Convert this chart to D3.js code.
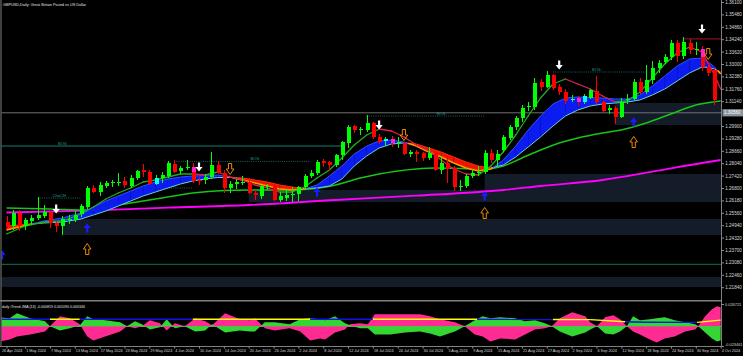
<!DOCTYPE html>
<html><head><meta charset="utf-8">
<script src="https://cdn.jsdelivr.net/npm/d3@7"></script>
<style>
html,body{margin:0;padding:0;background:#000;overflow:hidden}
svg{display:block}
text{font-family:"Liberation Sans",Arial,sans-serif}
</style></head><body>
<svg id="c" width="743" height="356"></svg>
<script>
// ---------------- DATA ----------------
const chartTitle = "GBPUSD,Daily:  Great Britain Pound vs US Dollar";
const subTitle = "daily iTrend JMA (13) -0.000819 0.001090 0.000346";

// Daily OHLC, bar 0 = 26 Apr 2024 ... bar 115 = 4 Oct 2024
const opens = [1.2510,1.2490,1.2555,1.2490,1.2515,1.2530,1.2540,1.2558,1.2505,1.2490,
 1.2522,1.2522,1.2550,1.2585,1.2680,1.2660,1.2690,1.2705,1.2705,1.2715,
 1.2690,1.2728,1.2768,1.2760,1.2702,1.2728,1.2738,1.2800,1.2765,1.2780,
 1.2785,1.2722,1.2718,1.2735,1.2795,1.2755,1.2680,1.2702,1.2708,1.2712,
 1.2655,1.2640,1.2688,1.2692,1.2622,1.2632,1.2645,1.2650,1.2685,1.2740,
 1.2755,1.2815,1.2810,1.2795,1.2845,1.2905,1.2988,1.2970,1.2968,1.3003,
 1.2935,1.2915,1.2925,1.2905,1.2905,1.2850,1.2858,1.2855,1.2830,1.2855,
 1.2770,1.2805,1.2780,1.2685,1.2690,1.2740,1.2755,1.2760,1.2855,1.2820,
 1.2868,1.2930,1.2985,1.3030,1.3085,1.3085,1.3210,1.3185,1.3245,1.3185,
 1.3160,1.3120,1.3130,1.3112,1.3130,1.3165,1.3110,1.3070,1.3080,1.3035,
 1.3118,1.3125,1.3210,1.3160,1.3220,1.3280,1.3310,1.3335,1.3405,1.3340,
 1.3405,1.3370,1.3375,1.3285,1.3270,1.3120];
const highs = [1.2540,1.2570,1.2570,1.2530,1.2545,1.2634,1.2595,1.2565,1.2515,1.2540,
 1.2545,1.2565,1.2600,1.2690,1.2695,1.2710,1.2715,1.2720,1.2755,1.2735,
 1.2745,1.2770,1.2800,1.2770,1.2745,1.2760,1.2815,1.2818,1.2790,1.2818,
 1.2805,1.2735,1.2750,1.2860,1.2815,1.2770,1.2715,1.2725,1.2740,1.2730,
 1.2670,1.2695,1.2700,1.2700,1.2660,1.2675,1.2685,1.2690,1.2750,1.2770,
 1.2820,1.2825,1.2815,1.2850,1.2915,1.2995,1.2995,1.2985,1.3044,1.3010,
 1.2950,1.2935,1.2940,1.2935,1.2910,1.2870,1.2870,1.2860,1.2885,1.2865,
 1.2840,1.2840,1.2790,1.2720,1.2750,1.2775,1.2790,1.2870,1.2875,1.2870,
 1.2945,1.2995,1.3040,1.3095,1.3110,1.3230,1.3225,1.3266,1.3250,1.3200,
 1.3175,1.3145,1.3140,1.3150,1.3175,1.3239,1.3120,1.3095,1.3090,1.3130,
 1.3150,1.3225,1.3230,1.3297,1.3315,1.3320,1.3350,1.3420,1.3420,1.3434,
 1.3425,1.3410,1.3390,1.3310,1.3280,1.3130];
const lows = [1.2475,1.2470,1.2465,1.2470,1.2495,1.2520,1.2530,1.2480,1.2460,1.2446,
 1.2500,1.2510,1.2535,1.2575,1.2655,1.2640,1.2680,1.2685,1.2690,1.2680,
 1.2680,1.2720,1.2735,1.2695,1.2695,1.2705,1.2730,1.2755,1.2750,1.2770,
 1.2705,1.2695,1.2700,1.2725,1.2750,1.2655,1.2655,1.2675,1.2695,1.2650,
 1.2620,1.2625,1.2670,1.2615,1.2610,1.2615,1.2610,1.2615,1.2675,1.2730,
 1.2745,1.2785,1.2765,1.2785,1.2820,1.2880,1.2955,1.2945,1.2960,1.2925,
 1.2900,1.2890,1.2885,1.2880,1.2845,1.2835,1.2810,1.2815,1.2820,1.2765,
 1.2750,1.2705,1.2665,1.2665,1.2680,1.2730,1.2740,1.2750,1.2805,1.2790,
 1.2860,1.2920,1.2970,1.3010,1.3065,1.3070,1.3165,1.3180,1.3170,1.3145,
 1.3100,1.3110,1.3090,1.3100,1.3125,1.3100,1.3060,1.3050,1.3000,1.3030,
 1.3100,1.3120,1.3150,1.3150,1.3200,1.3255,1.3300,1.3320,1.3310,1.3325,
 1.3350,1.3345,1.3265,1.3240,1.3095,1.3070];
const closes = [1.2490,1.2555,1.2490,1.2520,1.2530,1.2545,1.2558,1.2505,1.2490,1.2525,
 1.2527,1.2545,1.2590,1.2680,1.2660,1.2697,1.2705,1.2708,1.2712,1.2695,
 1.2732,1.2765,1.2760,1.2702,1.2732,1.2745,1.2805,1.2760,1.2780,1.2785,
 1.2715,1.2718,1.2735,1.2795,1.2755,1.2680,1.2702,1.2708,1.2712,1.2655,
 1.2645,1.2688,1.2690,1.2620,1.2640,1.2645,1.2650,1.2685,1.2740,1.2755,
 1.2810,1.2805,1.2795,1.2845,1.2910,1.2985,1.2972,1.2976,1.3003,1.2935,
 1.2912,1.2925,1.2905,1.2910,1.2850,1.2860,1.2850,1.2830,1.2855,1.2770,
 1.2805,1.2775,1.2685,1.2690,1.2740,1.2755,1.2762,1.2855,1.2820,1.2850,
 1.2935,1.2985,1.3030,1.3080,1.3090,1.3205,1.3185,1.3245,1.3180,1.3160,
 1.3115,1.3125,1.3110,1.3140,1.3170,1.3110,1.3065,1.3082,1.3035,1.3110,
 1.3125,1.3210,1.3160,1.3220,1.3280,1.3305,1.3335,1.3405,1.3340,1.3410,
 1.3370,1.3375,1.3285,1.3255,1.3120,1.3115];

// Bars painted by the band-touch indicator (body part from top to bottom price)
const paintIdx    = [24, 30, 61, 62, 91, 92, 93, 112];
const paintTop    = [1.2732,1.2785,1.2925,1.2925,1.3125,1.3130,1.3140,1.3375];
const paintBottom = [1.2702,1.2762,1.2915,1.2905,1.3120,1.3110,1.3112,1.3335];
const paintKind   = ['up','down','up','down','up','down','up','down'];

// Fast moving average (coloured by slope)
const fastIdx = [0,3,6,9,12,14,16,18,20,22,24,26,28,30,32,34,36,38,40,42,44,46,48,50,52,54,56,58,60,62,64,66,68,70,72,74,76,78,80,82,84,86,88,90,92,94,96,98,100,102,104,106,108,110,112,114,115];
const fastMA = [1.2450,1.2490,1.2510,1.2515,1.2550,1.2585,1.2625,1.2655,1.2680,1.2710,1.2720,1.2735,1.2750,1.2750,1.2745,1.2760,1.2735,1.2720,1.2695,1.2680,1.2660,1.2660,1.2685,1.2730,1.2770,1.2830,1.2895,1.2945,1.2975,1.2965,1.2935,1.2895,1.2865,1.2820,1.2775,1.2750,1.2745,1.2790,1.2860,1.2945,1.3040,1.3130,1.3200,1.3225,1.3200,1.3175,1.3140,1.3110,1.3115,1.3160,1.3230,1.3300,1.3355,1.3385,1.3360,1.3245,1.3175];

// Ribbon: fast and slow edges
const bandIdx = [0,2,4,6,9,12,14,16,18,20,22,24,26,28,30,32,34,36,38,40,42,44,46,48,50,52,54,56,58,60,62,64,66,68,70,72,74,76,78,80,82,84,86,88,90,92,94,96,98,100,102,104,106,108,110,112,113,114,115];
const bandFast = [1.2470,1.2485,1.2500,1.2515,1.2530,1.2555,1.2585,1.2615,1.2640,1.2665,1.2690,1.2710,1.2725,1.2735,1.2740,1.27425,1.2745,1.2735,1.2720,1.2705,1.2690,1.2675,1.2670,1.2675,1.2695,1.2740,1.2790,1.2850,1.2890,1.2915,1.2920,1.2910,1.2890,1.2860,1.2835,1.2805,1.2780,1.2765,1.2775,1.2820,1.2890,1.2970,1.3040,1.3100,1.3130,1.3135,1.31325,1.3130,1.3125,1.3125,1.3145,1.3190,1.3240,1.3290,1.3325,1.3330,1.3310,1.3285,1.3250];
const bandSlow = [1.2490,1.2495,1.2500,1.2505,1.2510,1.2525,1.2545,1.2565,1.2590,1.2615,1.2640,1.2660,1.2680,1.2700,1.2715,1.2725,1.27325,1.27325,1.2730,1.2720,1.2710,1.2695,1.2685,1.26775,1.2680,1.2690,1.2725,1.2790,1.2840,1.2880,1.2900,1.2905,1.2900,1.2880,1.2860,1.2835,1.2810,1.2790,1.2780,1.2795,1.2835,1.2885,1.2935,1.2990,1.3040,1.3070,1.3090,1.3100,1.3105,1.3110,1.3120,1.3145,1.3175,1.3215,1.3255,1.3285,1.32825,1.3275,1.3260];

// Slow green MA and magenta MA
const slowIdx = [0,7,13,17,21,25,30,35,39,45,49,53,57,60,63,66,69,73,77,80,83,86,89,92,96,99,103,107,111,115];
const slowMA = [1.2580,1.2575,1.2570,1.2590,1.2610,1.2630,1.2655,1.26675,1.2670,1.2670,1.2675,1.2695,1.2730,1.2750,1.2765,1.2775,1.2780,1.27775,1.2775,1.2790,1.2830,1.2870,1.2905,1.2930,1.2955,1.2970,1.3005,1.3050,1.3095,1.3115];
const longIdx = [0,13,26,39,53,66,80,86,96,104,112,115];
const longMA = [1.25575,1.25665,1.25815,1.2595,1.2620,1.26415,1.2670,1.2690,1.2720,1.27615,1.2805,1.2820];

// Signal arrows
const sellIdx = [8,31,60,89,112];
const sellPrice = [1.2575,1.2785,1.2995,1.3295,1.3475];
const buyIdx = [-0.7,13,50,77,101];
const buyPrice = [1.2345,1.2480,1.2660,1.2640,1.3010];
const exitDownIdx = [36,64,113];
const exitDownPrice = [1.2775,1.2945,1.3350];
const exitUpIdx = [13,77,101];
const exitUpPrice = [1.2375,1.2555,1.2910];

// Supply / demand zones
const zoneStart = [9,-1,39,77,98];
const zoneEnd = [117,117,117,117,117];
const zoneTop = [1.2525,1.2235,1.2670,1.2750,1.3105];
const zoneBottom = [1.2445,1.2185,1.2610,1.2670,1.2995];

// Structure breaks
const structStart = [-1,5,24,27,58,88];
const structEnd = [54,12,30,49,77,103];
const structPrice = [1.2890,1.2630,1.2680,1.2813,1.3040,1.3260];
const structText = ['BOS','ChoCH','BOS','BOS','BOS','BOS'];
const structLabelIdx = [9,8.5,26.5,40,70,95];
const structConfirmed = [true,false,false,false,false,false];

// Other horizontal levels
const levelTeal = 1.22985;
const levelGrey = 1.30560;
const highLevel = 1.3426, highLevelFrom = 109;

// Axis ticks
const priceTicks = [1.36100,1.35480,1.34860,1.34240,1.33620,1.33000,1.32380,1.31760,1.31140,1.29900,1.29280,1.28660,1.28040,1.27420,1.26800,1.26180,1.25560,1.24940,1.24320,1.23700,1.23080,1.22460,1.21840];
const dateTickIdx = [0,3,7,11,15,19,23,27,31,35,39,43,47,51,55,59,63,67,71,75,79,83,87,91,95,99,103,107,111,115];
const dateTickText = ['26 Apr 2024','1 May 2024','7 May 2024','13 May 2024','17 May 2024','23 May 2024','29 May 2024','4 Jun 2024','10 Jun 2024','14 Jun 2024','20 Jun 2024','26 Jun 2024','2 Jul 2024','8 Jul 2024','12 Jul 2024','18 Jul 2024','24 Jul 2024','30 Jul 2024','5 Aug 2024','9 Aug 2024','15 Aug 2024','21 Aug 2024','27 Aug 2024','2 Sep 2024','6 Sep 2024','12 Sep 2024','18 Sep 2024','24 Sep 2024','30 Sep 2024','4 Oct 2024'];

// iTrend sub-window
const trendIdx = [-1,0.5,1.7,3.8,6.2,7,8.6,10.2,11.8,13,14,15.9,18.3,19.4,20.7,21.8,23.1,24.7,25.8,27.1,28.7,30.4,32,33.1,35.2,37.6,39.2,40,41.6,43.2,45.6,47.3,48.9,50.5,51.3,52.9,54.5,55.3,56.9,58.2,59.3,61.8,64.2,66.6,68.2,69.8,72.2,73.8,75.4,76.7,77.9,79.5,81.9,83.5,85.1,86.7,87.8,89.1,91.1,93.2,94,95.1,96.4,97.7,98.8,99.9,100.9,102,103.6,104.7,106,107.6,109.3,110.9,111.4,112.5,113.6,114.4,115];
const bullVals = [0.0108,0.0096,0.0156,0.0096,0.006,0,-0.0048,-0.0024,0.0012,0.012,
 0.0084,0.0072,0.0048,0,0.006,0.0024,-0.0036,-0.0012,0.0084,-0.0024,
 0,-0.006,-0.0048,0.0024,-0.0072,-0.0048,-0.006,-0.006,0.0048,0.0048,
 0.0024,0.0084,0.0096,0.0084,0.0072,0.012,0.0036,0.0012,-0.0024,-0.0024,
 -0.0096,-0.0096,-0.0072,-0.006,-0.0084,-0.012,-0.006,0,0.0072,0.012,
 0.0096,0.0108,0.0096,0.006,0.0072,0.0036,0,-0.006,-0.012,-0.0072,
 -0.0036,0,-0.0084,-0.0096,-0.006,0,0.012,0.0072,0.0084,0.0096,
 0.0108,0.0072,0.0048,0.0024,0,-0.0072,-0.0144,-0.018,-0.0168];
const bearVals = [-0.018,-0.0156,-0.012,-0.0096,-0.006,0,0.012,0.0096,0.0024,-0.012,
 -0.0168,-0.012,-0.006,0,-0.0024,0,0.0072,0.0036,-0.0048,0.0036,
 0,0.0096,0.006,0.0012,0.0156,0.0084,0.0072,0.0096,-0.0024,-0.0048,
 -0.0024,-0.006,-0.0168,-0.0144,-0.0156,-0.0072,-0.0036,0.0024,0.0036,0.0024,
 0.0144,0.0144,0.0144,0.0144,0.012,0.0084,0.0048,0,-0.0096,-0.012,
 -0.018,-0.0144,-0.0156,-0.0096,-0.0036,-0.0024,0,0.0096,0.0168,0.012,
 0.0048,0,0.0108,0.0132,0.0084,0,-0.006,-0.0096,-0.0156,-0.0192,
 -0.0144,-0.012,-0.006,-0.0036,0,0.012,0.0204,0.024,0.0228];
const sigIdx = [-1,7,11.8,30,48.9,59,75.8,88,94,99,99.6,103,111.2,115];
const sigVals = [0.0085,0.0085,0.0085,0.0085,0.0085,0.0085,0.0085,0.0082,0.0080,0.0058,0.0056,0.0050,0.0048,0.0075];
const sigState = ['up','down','up','down','up','down','up','down','down','down','up','up','down','down'];
const subTicks = [0.026721,-0.023461];
const lastLevelText = "1.30560";

// ---------------- DRAW ----------------
const W = 743, H = 356, AX = 721.5;
const svg = d3.select('#c');
svg.append('rect').attr('width',W).attr('height',H).attr('fill','#000');

const x = d3.scaleLinear().domain([0,115]).range([6.5,720.65]);
const y = d3.scaleLinear().domain([1.21840,1.36100]).range([287.2,2]);
const ySub = d3.scaleLinear().domain([-0.023461,0.026721]).range([346,304]);

const defs = svg.append('defs');
defs.append('clipPath').attr('id','cm').append('rect').attr('x',1.5).attr('y',0).attr('width',AX-1.5).attr('height',299);
defs.append('clipPath').attr('id','cs').append('rect').attr('x',1.5).attr('y',301.5).attr('width',AX-1.5).attr('height',44.5);

const main = svg.append('g').attr('clip-path','url(#cm)');

// zones
main.selectAll('rect.zone').data(zoneStart).join('rect').attr('class','zone')
  .attr('x',(d)=>x(d)).attr('width',(d,k)=>x(zoneEnd[k])-x(d))
  .attr('y',(d,k)=>y(zoneTop[k])).attr('height',(d,k)=>y(zoneBottom[k])-y(zoneTop[k]))
  .attr('fill','#141c2a');

// horizontal levels
main.append('line').attr('x1',0).attr('x2',AX).attr('y1',y(levelTeal)).attr('y2',y(levelTeal))
  .attr('stroke','#0f5c4a').attr('stroke-width',1.2);
main.append('line').attr('x1',0).attr('x2',AX).attr('y1',y(levelGrey)).attr('y2',y(levelGrey))
  .attr('stroke','#707070').attr('stroke-width',1);
main.append('line').attr('x1',x(highLevelFrom)).attr('x2',AX).attr('y1',y(highLevel)).attr('y2',y(highLevel))
  .attr('stroke','#8a1010').attr('stroke-width',1.3);

// structure lines
structStart.forEach((s,k)=>{
  main.append('line').attr('x1',x(s)).attr('x2',x(structEnd[k]))
    .attr('y1',y(structPrice[k])).attr('y2',y(structPrice[k]))
    .attr('stroke', structConfirmed[k] ? '#13806f' : '#1b7d70')
    .attr('stroke-width', structConfirmed[k] ? 1.2 : 0.8)
    .attr('stroke-dasharray', structConfirmed[k] ? null : '1,1.2');
  main.append('text').attr('x',x(structLabelIdx[k])).attr('y',y(structPrice[k])-1.2)
    .attr('text-anchor','middle').attr('font-size',4.2).attr('fill','#1d9a88').text(structText[k]);
});

// long MA (magenta), slow MA (green)
const lineGen = d3.line().x(d=>x(d[0])).y(d=>y(d[1])).curve(d3.curveMonotoneX);
main.append('path').attr('d',lineGen(longIdx.map((d,k)=>[d,longMA[k]])))
  .attr('fill','none').attr('stroke','#ff00ff').attr('stroke-width',1.8);
main.append('path').attr('d',lineGen(slowIdx.map((d,k)=>[d,slowMA[k]])))
  .attr('fill','none').attr('stroke','#17c417').attr('stroke-width',1.5);

// ribbon
const bandPts = bandIdx.map((d,k)=>({i:d,f:bandFast[k],s:bandSlow[k]}));
const areaGen = d3.area().x(d=>x(d.i)).y0(d=>y(d.s)).y1(d=>y(d.f));
const segLine = d3.line().x(d=>x(d[0])).y(d=>y(d[1]));
const bandG = main.append('g');
const edgeG = main.append('g');
for (let k=0;k<bandPts.length-1;k++){
  const a=bandPts[k], b=bandPts[k+1];
  const da=a.f-a.s, db=b.f-b.s;
  let pieces;
  if (da*db<0){
    const t = da/(da-db);
    const m = {i:a.i+t*(b.i-a.i), f:a.f+t*(b.f-a.f)}; m.s=m.f;
    pieces=[[a,m,da>0],[m,b,db>0]];
  } else pieces=[[a,b,(da+db)>=0]];
  pieces.forEach(([p,q,bull])=>{
    bandG.append('path').attr('d',areaGen([p,q])).attr('fill',bull?'#0c1cf0':'#f01400').attr('stroke','none');
    edgeG.append('path').attr('d',segLine([[p.i,p.s],[q.i,q.s]])).attr('fill','none')
      .attr('stroke',bull?'#6fcfcf':'#ff2a10').attr('stroke-width',1);
    edgeG.append('path').attr('d',segLine([[p.i,p.f],[q.i,q.f]])).attr('fill','none')
      .attr('stroke',bull?'#3050ff':'#ff9a00').attr('stroke-width',bull?1:1.6);
  });
}

// fast MA coloured by slope
const fastG = main.append('g');
for (let k=0;k<fastIdx.length-1;k++){
  const up = fastMA[k+1] >= fastMA[k];
  fastG.append('path').attr('d',segLine([[fastIdx[k],fastMA[k]],[fastIdx[k+1],fastMA[k+1]]]))
    .attr('fill','none').attr('stroke',up?'#1fae1f':'#e0224a').attr('stroke-width',1.3)
    .attr('stroke-linecap','round');
}

// candles
const bars = opens.map((o,i)=>({i,o,h:highs[i],l:lows[i],c:closes[i]}));
const cg = main.append('g').attr('shape-rendering','crispEdges');
const col = d=> d.c>=d.o ? '#00ff00' : '#ff0000';
cg.selectAll('line').data(bars).join('line')
  .attr('x1',d=>Math.round(x(d.i))+0.5).attr('x2',d=>Math.round(x(d.i))+0.5)
  .attr('y1',d=>y(d.h)).attr('y2',d=>y(d.l)).attr('stroke',col).attr('stroke-width',1);
cg.selectAll('rect.b').data(bars).join('rect').attr('class','b')
  .attr('x',d=>Math.round(x(d.i))-1.5).attr('width',4)
  .attr('y',d=>y(Math.max(d.o,d.c))).attr('height',d=>Math.max(1,Math.abs(y(d.o)-y(d.c))))
  .attr('fill',col);
cg.selectAll('rect.p').data(paintIdx).join('rect').attr('class','p')
  .attr('x',d=>Math.round(x(d))-1.5).attr('width',4)
  .attr('y',(d,k)=>y(paintTop[k])).attr('height',(d,k)=>Math.max(1,y(paintBottom[k])-y(paintTop[k])))
  .attr('fill',(d,k)=>paintKind[k]==='up'?'#00ffff':'#ff22cc');

// arrows
const downArrow = 'M-1.1,-4.5L1.1,-4.5L1.1,0L3.6,0L0,4.5L-3.6,0L-1.1,0Z';
const upArrow = 'M-1.1,4.5L1.1,4.5L1.1,0L3.6,0L0,-4.5L-3.6,0L-1.1,0Z';
const hollowDown = 'M-1.6,-5.5L1.6,-5.5L1.6,0L3.8,0L0,5.5L-3.8,0L-1.6,0Z';
const hollowUp = 'M-1.6,5.5L1.6,5.5L1.6,0L3.8,0L0,-5.5L-3.8,0L-1.6,0Z';
const ag = main.append('g');
sellIdx.forEach((d,k)=>ag.append('path').attr('d',downArrow)
  .attr('transform',`translate(${x(d)},${y(sellPrice[k])})`).attr('fill','#ffffff'));
buyIdx.forEach((d,k)=>ag.append('path').attr('d',upArrow)
  .attr('transform',`translate(${x(d)},${y(buyPrice[k])})`).attr('fill','#1a1aff'));
exitDownIdx.forEach((d,k)=>ag.append('path').attr('d',hollowDown)
  .attr('transform',`translate(${x(d)},${y(exitDownPrice[k])})`).attr('fill','none')
  .attr('stroke','#ff9900').attr('stroke-width',0.9));
exitUpIdx.forEach((d,k)=>ag.append('path').attr('d',hollowUp)
  .attr('transform',`translate(${x(d)},${y(exitUpPrice[k])})`).attr('fill','none')
  .attr('stroke','#ff9900').attr('stroke-width',0.9));

// title
svg.append('text').attr('x',3).attr('y',6).attr('font-size',3.8).attr('fill','#e0e0e0').text(chartTitle);

// ---------- sub window ----------
const sub = svg.append('g').attr('clip-path','url(#cs)');
sub.append('line').attr('x1',0).attr('x2',AX).attr('y1',ySub(0)).attr('y2',ySub(0))
  .attr('stroke','#d0d0d0').attr('stroke-width',0.8);
const subArea = d3.area().x(d=>x(d[0])).y0(ySub(0)).y1(d=>ySub(d[1]));
sub.append('path').attr('d',subArea(trendIdx.map((d,k)=>[d,bearVals[k]]))).attr('fill','#ff2a92');
sub.append('path').attr('d',subArea(trendIdx.map((d,k)=>[d,bullVals[k]]))).attr('fill','#33d633');
for (let k=0;k<sigIdx.length-1;k++){
  sub.append('path').attr('d', d3.line().x(d=>x(d[0])).y(d=>ySub(d[1]))([[sigIdx[k],sigVals[k]],[sigIdx[k+1],sigVals[k+1]]]))
    .attr('fill','none').attr('stroke', sigState[k]==='up' ? '#1414e6' : '#ffff00').attr('stroke-width',1.4);
}
svg.append('text').attr('x',2).attr('y',307.5).attr('font-size',3.6).attr('fill','#e0e0e0').text(subTitle);

// ---------- frames & axes ----------
const frame = svg.append('g').attr('stroke','#808080').attr('fill','none');
frame.append('line').attr('x1',1).attr('x2',1).attr('y1',0).attr('y2',346.5);
frame.append('line').attr('x1',AX).attr('x2',AX).attr('y1',0).attr('y2',346.5);
frame.append('line').attr('x1',0).attr('x2',AX).attr('y1',300.8).attr('y2',300.8).attr('stroke-width',1.4);
frame.append('line').attr('x1',0).attr('x2',AX).attr('y1',346.5).attr('y2',346.5);

function styleAxis(g, fs){
  g.select('.domain').remove();
  g.selectAll('.tick line').attr('stroke','#909090');
  g.selectAll('.tick text').attr('fill','#d8d8d8').attr('font-size',fs)
    .attr('font-family','"Liberation Sans",Arial,sans-serif');
}
const yAxis = d3.axisRight(y).tickValues(priceTicks).tickFormat(d3.format('.5f')).tickSize(2.5).tickPadding(1.2);
svg.append('g').attr('transform',`translate(${AX},0)`).call(yAxis).call(g=>styleAxis(g,4.6));
const sAxis = d3.axisRight(ySub).tickValues(subTicks).tickFormat(v=>v.toFixed(6)).tickSize(2.5).tickPadding(1);
svg.append('g').attr('transform',`translate(${AX},0)`).call(sAxis).call(g=>{
  styleAxis(g,3.9);
  g.selectAll('.tick text').attr('dy',(d)=> d<0 ? '-0.1em' : '0.32em');
});
const xAxis = d3.axisBottom(x).tickValues(dateTickIdx).tickFormat((d,k)=>dateTickText[k]).tickSize(2).tickPadding(0.8);
svg.append('g').attr('transform','translate(0,346.5)').call(xAxis).call(g=>{
  styleAxis(g,3.8);
  g.selectAll('.tick text').attr('text-anchor','start').attr('x',(d)=> d===0 ? -5 : 0.5);
});

// current level box on the price axis
svg.append('rect').attr('x',AX+1).attr('y',y(levelGrey)-3.6).attr('width',20.5).attr('height',7.2).attr('fill','#8b939c');
svg.append('text').attr('x',AX+2.5).attr('y',y(levelGrey)+1.6).attr('font-size',4.6).attr('fill','#ffffff').text(lastLevelText);
</script>
</body></html>
